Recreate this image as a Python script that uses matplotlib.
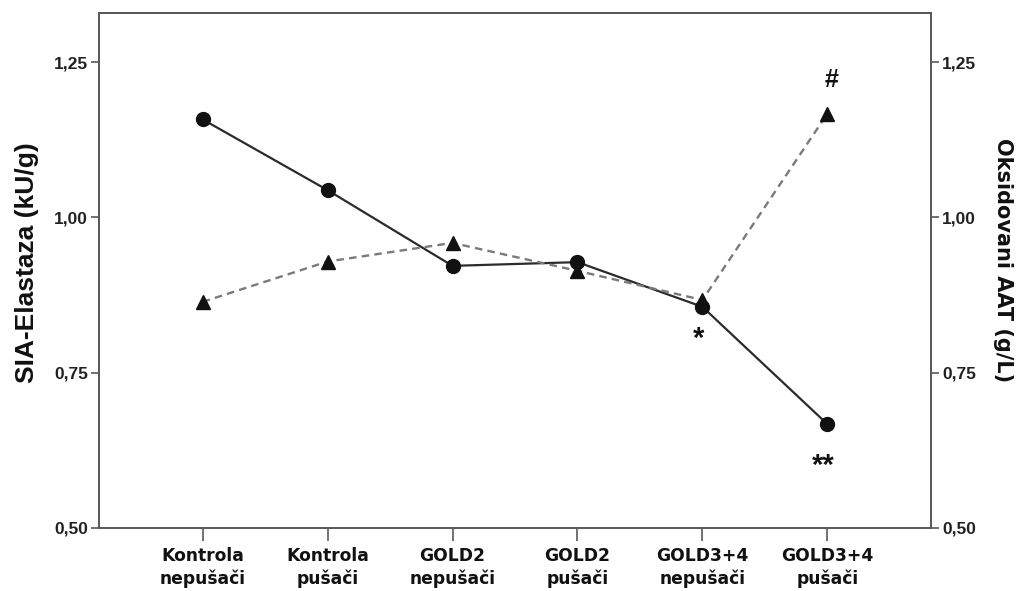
import matplotlib
matplotlib.use('Agg')
import matplotlib.pyplot as plt
from matplotlib.ticker import FuncFormatter

# group labels (two lines each)
groups = ['Kontrola\nnepušači', 'Kontrola\npušači', 'GOLD2\nnepušači',
          'GOLD2\npušači', 'GOLD3+4\nnepušači', 'GOLD3+4\npušači']

# group means
elastase = [1.158, 1.044, 0.922, 0.928, 0.856, 0.667]   # kU/g, left axis
oxidized_aat = [0.864, 0.929, 0.959, 0.914, 0.867, 1.167]  # g/L, right axis

# significance marks: (series, group index, text, offset in px)
marks = [
    ('aat', 5, '#', (4, 34)),
    ('ela', 4, '*', (-4, -32)),
    ('ela', 5, '**', (-4, -42)),
]

yticks = [0.50, 0.75, 1.00, 1.25]
ylim = (0.50, 1.33)

W, H = 1019, 591
fig = plt.figure(figsize=(W / 100, H / 100), dpi=100)
ax = fig.add_axes([99 / W, (H - 527.7) / H, (931 - 99) / W, (527.7 - 12.7) / H])
ax2 = ax.twinx()

spine_col = '#5a5a5a'
comma = FuncFormatter(lambda v, _: f'{v:.2f}'.replace('.', ','))
tick_font = dict(family='Liberation Sans', weight='bold', size=12.5)

x = list(range(len(groups)))
ax.plot(x, elastase, color='#2b2b2b', lw=1.6, marker='o', ms=10,
        mfc='#111111', mec='#111111', zorder=3)
ax2.plot(x, oxidized_aat, color='#7a7a7a', lw=1.7, ls=(0, (3.2, 2.2)),
         marker='^', ms=9.5, mfc='#111111', mec='#111111', zorder=3)

for a in (ax, ax2):
    a.set_ylim(*ylim)
    a.set_yticks(yticks)
    a.yaxis.set_major_formatter(comma)
    a.set_xlim(-0.83, 5.83)
    for s in a.spines.values():
        s.set_color(spine_col)
        s.set_linewidth(1.4)
    a.tick_params(axis='y', direction='out', length=6, width=1.2,
                  color=spine_col, pad=2)
    for lbl in a.get_yticklabels():
        lbl.set_fontproperties(tick_font)
        lbl.set_color('#222222')

ax.set_xticks(x)
ax.set_xticklabels(groups, fontfamily='DejaVu Sans', fontweight='bold',
                   fontsize=12.3, linespacing=1.3, color='#111111')
ax.tick_params(axis='x', direction='out', length=9, width=1.2,
               color=spine_col, pad=5)

ax.set_ylabel('SIA-Elastaza (kU/g)', fontfamily='Liberation Sans',
              fontweight='bold', fontsize=19, color='#111111')
ax.yaxis.set_label_coords(-0.072, 0.515)
ax2.set_ylabel('Oksidovani AAT (g/L)', fontfamily='DejaVu Sans',
               fontweight='bold', fontsize=15, color='#111111',
               rotation=270, va='bottom')
ax2.yaxis.set_label_coords(1.074, 0.52)

for series, i, txt, (dx, dy) in marks:
    target = ax2 if series == 'aat' else ax
    yv = oxidized_aat[i] if series == 'aat' else elastase[i]
    target.annotate(txt, xy=(i, yv), xytext=(dx * 0.72, dy * 0.72),
                    textcoords='offset points', ha='center', va='center',
                    fontfamily='Liberation Sans', fontweight='bold',
                    fontsize=21 if '*' in txt else 18, color='#111111')

fig.savefig('out.png', dpi=100)
